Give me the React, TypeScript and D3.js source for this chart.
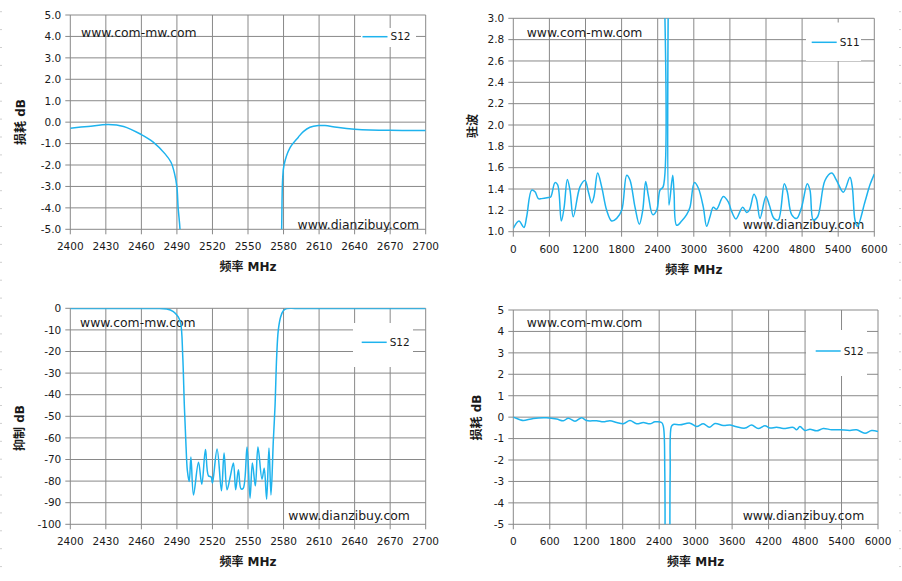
import React from 'react';
import * as d3 from 'd3';

// ---- data ----
// panel 1: S12 insertion loss, 2400-2700 MHz (null = gap where the curve leaves the plot)
const narrowLossFreq = [2400, 2415, 2432, 2445, 2460, 2470, 2480, 2485, 2488, 2490, 2491, 2492.6, 2494,
  2535, 2577.5, 2578.4, 2579.2, 2580.4, 2585.4, 2592.5, 2596.7, 2602.3, 2609.4, 2615, 2625, 2640, 2653, 2670, 2685, 2700];
const narrowLossDb = [-0.28, -0.2, -0.11, -0.2, -0.58, -0.93, -1.48, -1.87, -2.4, -3.03, -3.97, -5.0, -7,
  null, -7, -5, -2.7, -2.0, -1.2, -0.7, -0.44, -0.24, -0.16, -0.16, -0.24, -0.33, -0.37, -0.38, -0.39, -0.39];

// panel 2: S11 VSWR, 0-6000 MHz
const vswrFreq = [0, 94, 177, 222, 305, 361, 416, 471, 582, 621, 693, 737, 798, 843, 898, 942, 997, 1108, 1192,
  1247, 1303, 1341, 1402, 1469, 1552, 1635, 1718, 1802, 1885, 1939, 2023, 2095, 2151, 2200, 2244, 2317, 2383,
  2438, 2490, 2494, 2540, 2582, 2588, 2649, 2671, 2715, 2798, 2881, 2937, 3010, 3075, 3158, 3213, 3269, 3324,
  3379, 3490, 3573, 3629, 3701, 3812, 3878, 3922, 4000, 4044, 4100, 4199, 4255, 4332, 4404, 4504, 4554, 4626,
  4709, 4792, 4886, 4931, 4986, 5058, 5180, 5291, 5374, 5485, 5595, 5634, 5679, 5720, 5845, 5928, 6000];
const vswrValue = [1.03, 1.1, 1.04, 1.14, 1.39, 1.375, 1.31, 1.31, 1.32, 1.325, 1.46, 1.44, 1.1, 1.22, 1.49, 1.39,
  1.14, 1.42, 1.48, 1.375, 1.27, 1.33, 1.55, 1.42, 1.2, 1.1, 1.125, 1.2, 1.53, 1.485, 1.23, 1.07, 1.2, 1.47, 1.34,
  1.16, 1.2, 1.39, 1.42, 3.6, null, 3.6, 1.25, 1.53, 1.37, 1.06, 1.1, 1.16, 1.23, 1.46, 1.41, 1.23, 1.05, 1.14,
  1.23, 1.21, 1.33, 1.28, 1.19, 1.12, 1.23, 1.18, 1.2, 1.35, 1.3, 1.125, 1.33, 1.25, 1.125, 1.11, 1.45, 1.375,
  1.16, 1.125, 1.23, 1.45, 1.39, 1.11, 1.14, 1.48, 1.55, 1.48, 1.37, 1.51, 1.42, 1.11, 1.05, 1.28, 1.44, 1.54];

// panel 3: S12 rejection, 2400-2700 MHz
const rejectFreq = [2400, 2440, 2470, 2481.4, 2487, 2491, 2493.2, 2494.9, 2496.3, 2497.7, 2498.8, 2500.4, 2501.8,
  2504, 2508.2, 2511, 2514.1, 2516.6, 2518.9, 2520, 2523.9, 2527.6, 2529.8, 2532.3, 2535, 2537.7, 2539.6, 2541.9,
  2544.1, 2546, 2549.2, 2551.7, 2553.7, 2556.2, 2558.4, 2561.8, 2563.7, 2565.7, 2567.7, 2569.4, 2571.4, 2572.8,
  2574.2, 2575.6, 2577.6, 2579.8, 2582.7, 2590, 2620, 2660, 2700];
const rejectDb = [-0.1, -0.1, -0.1, -0.3, -1.5, -3.9, -7, -22, -45.5, -64, -75, -80.2, -68.8, -86.4, -71.3, -81.5,
  -65.4, -77.5, -78.1, -81, -65.1, -84.5, -67, -84, -78, -71.6, -84, -74.7, -83.6, -83.3, -64.2, -87.9, -71.6,
  -82.2, -64.2, -79.1, -74, -88.4, -64.7, -86.4, -61, -45.5, -22.4, -10, -3.9, -1.1, -0.15, -0.05, -0.05, -0.05, -0.05];

// panel 4: S12 insertion loss, 0-6000 MHz
const wideLossFreq = [0, 110, 165, 329, 548, 713, 823, 905, 1015, 1124, 1206, 1371, 1481, 1590, 1700, 1810, 1919,
  2029, 2139, 2248, 2331, 2440, 2470, 2492, 2496, 2536, 2577, 2581, 2600, 2632, 2742, 2906, 3016, 3126, 3225,
  3318, 3455, 3565, 3674, 3811, 3921, 4031, 4140, 4223, 4332, 4442, 4607, 4661, 4716, 4799, 4881, 4990, 5100,
  5237, 5374, 5539, 5648, 5786, 5895, 6000];
const wideLossDb = [0, -0.12, -0.16, -0.06, -0.03, -0.09, -0.17, -0.05, -0.19, -0.03, -0.16, -0.17, -0.22, -0.17,
  -0.25, -0.31, -0.16, -0.31, -0.25, -0.31, -0.22, -0.25, -0.45, -2.5, -7, null, -7, -2.5, -0.44, -0.34, -0.36,
  -0.28, -0.44, -0.31, -0.47, -0.3, -0.39, -0.37, -0.45, -0.51, -0.37, -0.53, -0.4, -0.51, -0.47, -0.53, -0.48,
  -0.59, -0.44, -0.62, -0.56, -0.64, -0.53, -0.59, -0.59, -0.62, -0.59, -0.75, -0.62, -0.67];

const narrowTicks = d3.range(2400, 2701, 30);
const wideTicks = d3.range(0, 6001, 600);
const lossTicks = d3.range(-5, 5.01, 1);
const vswrTicks = d3.range(1, 3.01, 0.2);
const rejectTicks = d3.range(-100, 0.1, 10);

const LINE = '#1eb3ee';
const GRID = '#898989';
const FONT = '"DejaVu Sans", "Noto Sans CJK SC", sans-serif';

// Excel-style labels use a plain hyphen for negatives
const fmt1 = (v: number) => (Math.abs(v) < 1e-9 ? 0 : v).toFixed(1);
const fmt0 = (v: number) => String(Math.round(v));

interface PanelProps {
  id: string;
  left: number; right: number; top: number; bottom: number;
  xDomain: [number, number]; xTicks: number[];
  yDomain: [number, number]; yTicks: number[]; yFmt: (v: number) => string;
  freq: number[]; values: (number | null)[];
  series: string; yTitle: string; yTitleY: number; yTitleX: number;
  legend: { x: number; y: number; box: [number, number, number, number] };
  mark1: [number, number]; mark2: [number, number];
}

const Panel: React.FC<PanelProps> = (p) => {
  const x = d3.scaleLinear().domain(p.xDomain).range([p.left, p.right]);
  const y = d3.scaleLinear().domain(p.yDomain).range([p.bottom, p.top]);
  const pts = p.freq.map((f, i) => ({ f, v: p.values[i] }));
  const line = d3.line<{ f: number; v: number | null }>()
    .defined(d => d.v !== null)
    .x(d => x(d.f))
    .y(d => y(d.v as number))
    .curve(d3.curveCatmullRom.alpha(0.5));
  const [bx, by, bw, bh] = p.legend.box;

  return (
    <g>
      <defs>
        <clipPath id={p.id}>
          <rect x={p.left} y={p.top} width={p.right - p.left} height={p.bottom - p.top} />
        </clipPath>
      </defs>
      {/* grid + ticks */}
      {p.yTicks.map((t, i) => (
        <g key={'y' + i}>
          <line x1={p.left - 5} x2={p.right} y1={y(t)} y2={y(t)} stroke={GRID} strokeWidth={1} />
          <text x={p.left - 9} y={y(t)} dy="0.36em" textAnchor="end" fontSize={10.5}>{p.yFmt(t)}</text>
        </g>
      ))}
      {p.xTicks.map((t, i) => (
        <g key={'x' + i}>
          <line x1={x(t)} x2={x(t)} y1={p.top} y2={p.bottom + 5} stroke={GRID} strokeWidth={1} />
          <text x={x(t)} y={p.bottom + 21} textAnchor="middle" fontSize={10.5}>{fmt0(t)}</text>
        </g>
      ))}
      {/* watermarks */}
      <text x={p.mark1[0]} y={p.mark1[1]} fontSize={12.4}>www.com-mw.com</text>
      <text x={p.mark2[0]} y={p.mark2[1]} fontSize={12.4}>www.dianzibuy.com</text>
      {/* legend */}
      <rect x={bx} y={by} width={bw} height={bh} fill="#fff" />
      <line x1={p.legend.x} x2={p.legend.x + 25} y1={p.legend.y} y2={p.legend.y} stroke={LINE} strokeWidth={1.5} />
      <text x={p.legend.x + 28} y={p.legend.y} dy="0.36em" fontSize={10.5}>{p.series}</text>
      {/* series */}
      <path d={line(pts) || ''} fill="none" stroke={LINE} strokeWidth={1.5} clipPath={`url(#${p.id})`} />
      {/* axis titles */}
      <text x={(p.left + p.right) / 2} y={p.bottom + 42} textAnchor="middle" fontSize={12} fontWeight="bold">频率 MHz</text>
      <text transform={`translate(${p.yTitleX},${p.yTitleY}) rotate(-90)`} dy="0.36em" textAnchor="middle"
        fontSize={12} fontWeight="bold">{p.yTitle}</text>
    </g>
  );
};

const App: React.FC = () => {
  const edgeDots = d3.range(11.7, 581, 17.9);
  return (
    <div style={{ position: 'fixed', left: 0, top: 0 }}>
      <svg width={902} height={581} viewBox="0 0 902 581" fontFamily={FONT} fill="#1a1a1a"
        style={{ display: 'block', background: '#fff' }}>
        {edgeDots.map((d, i) => (
          <g key={i}>
            <line x1={0} x2={2} y1={d} y2={d} stroke="#cfcfcf" />
            <line x1={899} x2={901} y1={d} y2={d} stroke="#cfcfcf" />
          </g>
        ))}
        <Panel id="c1" left={70.3} right={425.7} top={15} bottom={229.3}
          xDomain={[2400, 2700]} xTicks={narrowTicks} yDomain={[-5, 5]} yTicks={lossTicks} yFmt={fmt1}
          freq={narrowLossFreq} values={narrowLossDb} series="S12" yTitle="损耗 dB" yTitleX={21} yTitleY={122}
          legend={{ x: 362.5, y: 36.7, box: [361, 28, 55, 19] }} mark1={[81, 36.5]} mark2={[297.5, 228.5]} />
        <Panel id="c2" left={513.3} right={874.3} top={18.3} bottom={231.7}
          xDomain={[0, 6000]} xTicks={wideTicks} yDomain={[1, 3]} yTicks={vswrTicks} yFmt={fmt1}
          freq={vswrFreq} values={vswrValue} series="S11" yTitle="驻波" yTitleX={472.7} yTitleY={126}
          legend={{ x: 811.7, y: 42.3, box: [806, 22.5, 55, 38.5] }} mark1={[526.7, 37]} mark2={[742.7, 229]} />
        <Panel id="c3" left={70.3} right={425.7} top={308.3} bottom={524.3}
          xDomain={[2400, 2700]} xTicks={narrowTicks} yDomain={[-100, 0]} yTicks={rejectTicks} yFmt={fmt0}
          freq={rejectFreq} values={rejectDb} series="S12" yTitle="抑制 dB" yTitleX={20} yTitleY={428}
          legend={{ x: 361.7, y: 342.3, box: [353, 323, 60, 44] }} mark1={[80, 327]} mark2={[288.3, 519.5]} />
        <Panel id="c4" left={513.3} right={878} top={310} bottom={524.3}
          xDomain={[0, 6000]} xTicks={wideTicks} yDomain={[-5, 5]} yTicks={lossTicks} yFmt={fmt0}
          freq={wideLossFreq} values={wideLossDb} series="S12" yTitle="损耗 dB" yTitleX={476.7} yTitleY={417.5}
          legend={{ x: 815.7, y: 351, box: [806, 330, 61, 46] }} mark1={[526.7, 327]} mark2={[742.7, 519.5]} />
      </svg>
    </div>
  );
};

export default App;
